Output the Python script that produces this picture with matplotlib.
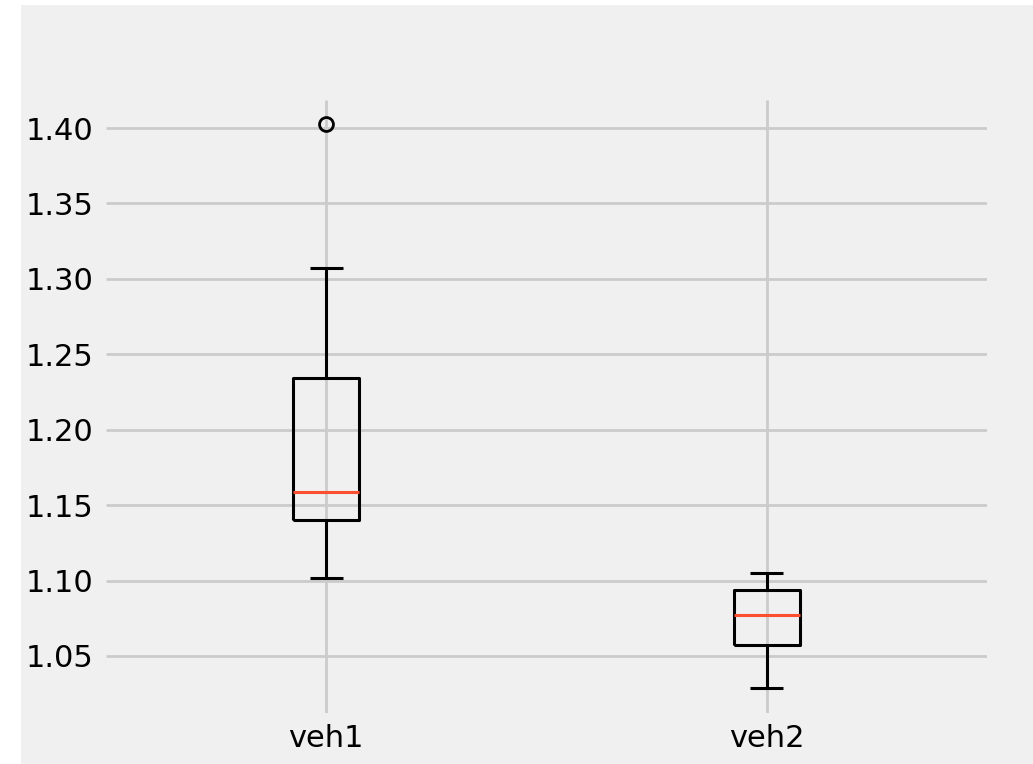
import matplotlib
matplotlib.use('Agg')
import matplotlib.pyplot as plt
from matplotlib.patches import Rectangle

plt.style.use('fivethirtyeight')

names = ['veh1', 'veh2']
medians = [1.159, 1.077]
q1 = [1.140, 1.057]
q3 = [1.234, 1.094]
whis_lo = [1.102, 1.029]
whis_hi = [1.307, 1.105]
outliers = [[1.403], []]

stats = []
for i in range(len(names)):
    stats.append({'label': names[i], 'med': medians[i], 'q1': q1[i], 'q3': q3[i],
                  'whislo': whis_lo[i], 'whishi': whis_hi[i], 'fliers': outliers[i]})

fig = plt.figure(figsize=(10.33, 7.64), dpi=100)
fig.patch.set_facecolor('white')
fig.patches.append(Rectangle((21 / 1033, 0), 1, 1 - 5 / 764, transform=fig.transFigure,
                             facecolor='#f0f0f0', edgecolor='none', zorder=-10))

ax = fig.add_axes([106 / 1033, 1 - 713 / 764, 881 / 1033, 613 / 764])
ax.set_facecolor('#f0f0f0')
ax.bxp(stats,
       boxprops=dict(linewidth=2.2, color='black'),
       whiskerprops=dict(linewidth=2.2, color='black'),
       capprops=dict(linewidth=2.2, color='black'),
       medianprops=dict(linewidth=2.2, color='#fc4f30'),
       flierprops=dict(marker='o', markerfacecolor='none', markeredgecolor='black',
                       markersize=10, markeredgewidth=2))
ax.set_ylim(1.0122, 1.4186)
ax.set_xlim(0.5, 2.5)
ax.tick_params(axis='both', labelsize=22)
ax.tick_params(axis='y', pad=9)
ax.tick_params(axis='x', pad=8)
ax.grid(True, color='#cbcbcb', linewidth=2)
for s in ax.spines.values():
    s.set_visible(False)

plt.savefig('out.png', dpi=100, facecolor=fig.get_facecolor())
